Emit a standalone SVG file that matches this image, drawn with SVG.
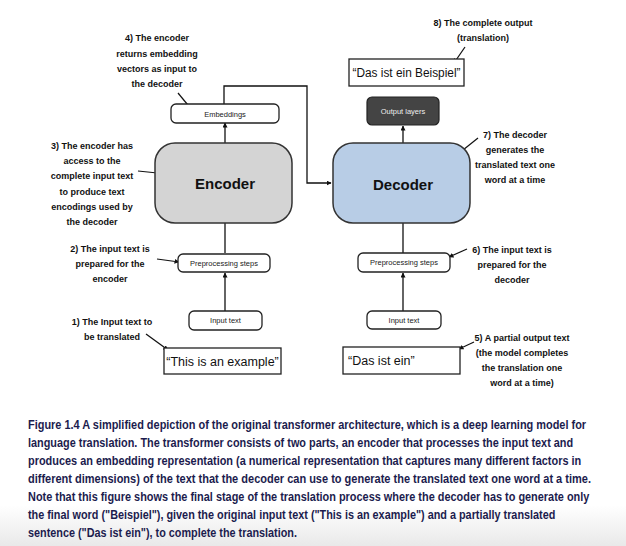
<svg xmlns="http://www.w3.org/2000/svg" width="626" height="546" viewBox="0 0 626 546">
<defs>
<marker id="ah" viewBox="0 0 10 10" refX="9" refY="5" markerWidth="5" markerHeight="5" orient="auto-start-reverse" markerUnits="userSpaceOnUse">
<path d="M0,0 L10,5 L0,10 z" fill="#111"/>
</marker>
<linearGradient id="bg" x1="0" y1="0" x2="0" y2="1">
<stop offset="0" stop-color="#ffffff"/>
<stop offset="1" stop-color="#e9e9e9"/>
</linearGradient>
<style>
.lbl{font-family:"Liberation Sans",Arial,sans-serif;font-weight:bold;font-size:9px;fill:#111;text-anchor:middle}
.small{font-family:"Liberation Sans",Arial,sans-serif;font-size:7.5px;fill:#222;text-anchor:middle}
.quote{font-family:"Liberation Sans",Arial,sans-serif;font-size:12.5px;fill:#111}
.big{font-family:"Liberation Sans",Arial,sans-serif;font-weight:bold;font-size:15px;fill:#111;text-anchor:middle}
.cap{font-family:"Liberation Sans",Arial,sans-serif;font-weight:bold;font-size:12.5px;fill:#1c1c4e}
.box{fill:#fff;stroke:#222;stroke-width:1.3}
.conn{fill:none;stroke:#111;stroke-width:1.3;marker-end:url(#ah)}
.ptr{fill:none;stroke:#111;stroke-width:1.2;marker-end:url(#ah)}
</style>
</defs>
<rect width="626" height="546" fill="#fff"/>
<rect x="0" y="505" width="626" height="41" fill="url(#bg)"/>

<g id="connectors">
<line class="conn" x1="225" y1="165" x2="225" y2="123"/>
<line class="conn" x1="225" y1="253" x2="225" y2="205"/>
<line class="conn" x1="225" y1="311" x2="225" y2="273"/>
<polyline class="conn" points="224,104 224,86 307,86 307,183 331,183"/>
<line class="conn" x1="403" y1="167" x2="403" y2="126"/>
<line class="conn" x1="403" y1="253" x2="403" y2="205"/>
<line class="conn" x1="403" y1="311" x2="403" y2="273"/>
<line class="ptr" x1="465" y1="47" x2="454" y2="63"/>
<line class="ptr" x1="178" y1="93" x2="192" y2="110"/>
<line class="ptr" x1="138" y1="171" x2="167" y2="174"/>
<line class="ptr" x1="478" y1="138" x2="458" y2="154"/>
<line class="ptr" x1="157" y1="259" x2="179" y2="262"/>
<line class="ptr" x1="467" y1="249" x2="449" y2="257"/>
<line class="ptr" x1="146" y1="334" x2="168" y2="350"/>
<line class="ptr" x1="474" y1="342" x2="459" y2="349"/>
</g>

<g id="embeddings">
<rect class="box" x="171" y="104" width="108" height="19" rx="5"/>
<text class="small" x="225" y="116.5">Embeddings</text>
</g>
<g id="encoder">
<rect x="155" y="143" width="137" height="80" rx="20" fill="#d4d4d4" stroke="#333" stroke-width="1.5"/>
<text class="big" x="225" y="189">Encoder</text>
</g>
<g id="enc-preprocessing">
<rect class="box" x="178" y="254" width="92" height="18" rx="5"/>
<text class="small" x="224" y="265.5">Preprocessing steps</text>
</g>
<g id="enc-input">
<rect class="box" x="189" y="311" width="73" height="19" rx="5"/>
<text class="small" x="225.5" y="323">Input text</text>
</g>
<g id="enc-example">
<rect class="box" x="164" y="348" width="117" height="26"/>
<text class="quote" x="222.5" y="365.5" text-anchor="middle">“This is an example”</text>
</g>

<g id="output-text">
<rect class="box" x="349" y="59" width="115" height="27"/>
<text class="quote" x="406.5" y="77" text-anchor="middle" textLength="108" lengthAdjust="spacingAndGlyphs" style="font-size:12px">“Das ist ein Beispiel”</text>
</g>
<g id="output-layers">
<rect x="367" y="97" width="72" height="28" rx="5" fill="#444" stroke="#222" stroke-width="1.2"/>
<text class="small" x="403" y="114" style="fill:#eee">Output layers</text>
</g>
<g id="decoder">
<rect x="333" y="143" width="137" height="80" rx="20" fill="#b8cde6" stroke="#333" stroke-width="1.5"/>
<text class="big" x="403" y="190">Decoder</text>
</g>
<g id="dec-preprocessing">
<rect class="box" x="358" y="253" width="92" height="19" rx="5"/>
<text class="small" x="404" y="265">Preprocessing steps</text>
</g>
<g id="dec-input">
<rect class="box" x="367" y="311" width="74" height="18" rx="5"/>
<text class="small" x="404" y="322.5">Input text</text>
</g>
<g id="dec-partial">
<rect class="box" x="343" y="347" width="117" height="27"/>
<text class="quote" x="348" y="365">“Das ist ein”</text>
</g>

<g id="label-1">
<text class="lbl" x="112" y="325">1) The Input text to</text>
<text class="lbl" x="112" y="340">be translated</text>
</g>
<g id="label-2">
<text class="lbl" x="110" y="252">2) The input text is</text>
<text class="lbl" x="110" y="267">prepared for the</text>
<text class="lbl" x="110" y="282">encoder</text>
</g>
<g id="label-3">
<text class="lbl" x="92" y="149">3) The encoder has</text>
<text class="lbl" x="92" y="164">access to the</text>
<text class="lbl" x="92" y="179">complete input text</text>
<text class="lbl" x="92" y="195">to produce text</text>
<text class="lbl" x="92" y="210">encodings used by</text>
<text class="lbl" x="92" y="225">the decoder</text>
</g>
<g id="label-4">
<text class="lbl" x="157" y="41">4) The encoder</text>
<text class="lbl" x="157" y="57">returns embedding</text>
<text class="lbl" x="157" y="72">vectors as input to</text>
<text class="lbl" x="157" y="87">the decoder</text>
</g>
<g id="label-5">
<text class="lbl" x="522" y="341">5) A partial output text</text>
<text class="lbl" x="522" y="356">(the model completes</text>
<text class="lbl" x="522" y="371">the translation one</text>
<text class="lbl" x="522" y="386">word at a time)</text>
</g>
<g id="label-6">
<text class="lbl" x="512" y="253">6) The input text is</text>
<text class="lbl" x="512" y="268">prepared for the</text>
<text class="lbl" x="512" y="283">decoder</text>
</g>
<g id="label-7">
<text class="lbl" x="515" y="138">7) The decoder</text>
<text class="lbl" x="515" y="153">generates the</text>
<text class="lbl" x="515" y="168">translated text one</text>
<text class="lbl" x="515" y="183">word at a time</text>
</g>
<g id="label-8">
<text class="lbl" x="483" y="26">8) The complete output</text>
<text class="lbl" x="483" y="41">(translation)</text>
</g>

<g id="caption" transform="translate(28,0) scale(0.81,1)">
<text class="cap" x="0" y="429" textLength="689" lengthAdjust="spacingAndGlyphs">Figure 1.4 A simplified depiction of the original transformer architecture, which is a deep learning model for</text>
<text class="cap" x="0" y="447" textLength="673" lengthAdjust="spacingAndGlyphs">language translation. The transformer consists of two parts, an encoder that processes the input text and</text>
<text class="cap" x="0" y="465" textLength="683" lengthAdjust="spacingAndGlyphs">produces an embedding representation (a numerical representation that captures many different factors in</text>
<text class="cap" x="0" y="483" textLength="695" lengthAdjust="spacingAndGlyphs">different dimensions) of the text that the decoder can use to generate the translated text one word at a time.</text>
<text class="cap" x="0" y="501" textLength="693" lengthAdjust="spacingAndGlyphs">Note that this figure shows the final stage of the translation process where the decoder has to generate only</text>
<text class="cap" x="0" y="519" textLength="651" lengthAdjust="spacingAndGlyphs">the final word ("Beispiel"), given the original input text ("This is an example") and a partially translated</text>
<text class="cap" x="0" y="537" textLength="332" lengthAdjust="spacingAndGlyphs">sentence ("Das ist ein"), to complete the translation.</text>
</g>
</svg>
